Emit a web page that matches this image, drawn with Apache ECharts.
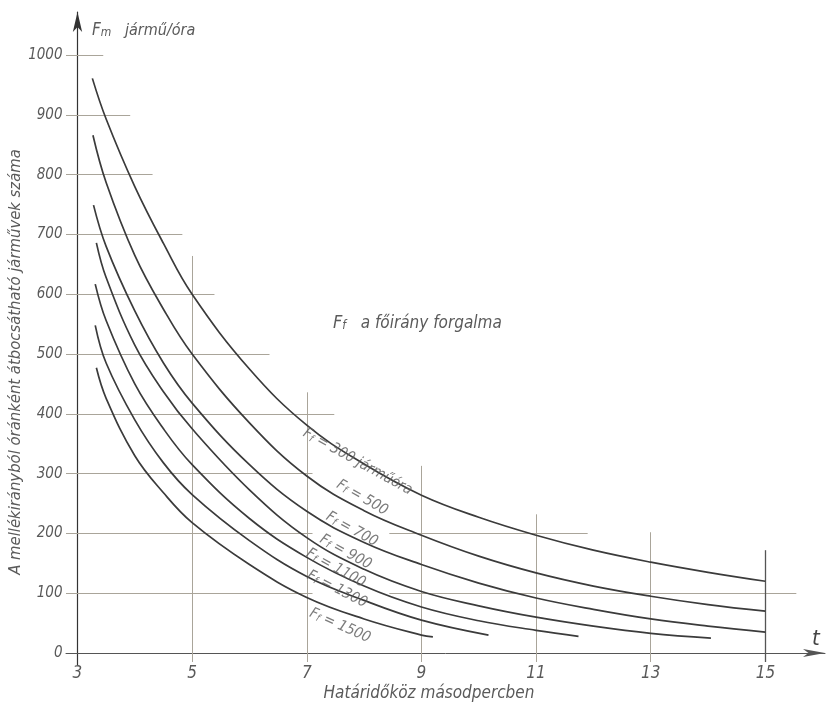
<!DOCTYPE html>
<html>
<head>
<meta charset="utf-8">
<script src="https://cdn.jsdelivr.net/npm/echarts@6/dist/echarts.min.js"></script>
<style>
html,body{margin:0;padding:0;background:#fff;}
#chart{width:833px;height:705px;}
</style>
</head>
<body>
<div id="chart"></div>
<script>
// ---- data ----
const xTicks = [3, 5, 7, 9, 11, 13, 15];
const yTicks = [0, 100, 200, 300, 400, 500, 600, 700, 800, 900, 1000];

const ff300  = [[3.26,961],[3.5,893],[4,780],[4.5,685],[5,600],[6,475],[7,381],[8,316],[9,264],[10,227],[11,197],[12,172],[13,152],[14,135],[15,120]];
const ff500  = [[3.27,866],[3.5,787],[4,665],[4.5,575],[5,500],[6,385],[7,296],[8,238],[9,197],[10,162],[11,134],[12,112],[13,95],[14,81],[15,70]];
const ff700  = [[3.28,749],[3.5,680],[4,572],[4.5,485],[5,418],[6,315],[7,237],[8,185],[9,148],[10,117],[11,92],[12,73],[13,57],[14,45],[15,35]];
const ff900  = [[3.33,686],[3.5,628],[4,515],[4.5,437],[5,375],[6,273],[7,193],[8,140],[9,103],[10,79],[11,60],[12,45],[13,33],[14.05,25]];
const ff1100 = [[3.31,617],[3.5,556],[4,450],[4.5,375],[5,315],[6,225],[7,160],[8,112],[9,77],[10,54],[11,38],[11.74,28]];
const ff1300 = [[3.31,548],[3.5,485],[4,390],[4.5,318],[5,265],[6,188],[7,128],[8,88],[9,55],[10.17,30]];
const ff1500 = [[3.33,477],[3.5,426],[4,330],[4.5,268],[5,218],[6,148],[7,93],[8,57],[9,30],[9.2,27]];

const curveNames = ['300 járműóra', '500', '700', '900', '1100', '1300', '1500'];
const curveData = [ff300, ff500, ff700, ff900, ff1100, ff1300, ff1500];

// label anchors (data coords) and text angle along each curve
const labelX = [7.9, 7.98, 7.8, 7.69, 7.52, 7.54, 7.59];
const labelY = [322, 262, 209, 171, 144, 109, 48];
const labelAngle = [-29, -30, -29, -29, -29, -27, -24];

// partial drawn grid lines (data coords): horizontal [y, xFrom, xTo], vertical [x, yFrom, yTo]
const hGrid = [[1000,2.8,3.45],[900,2.8,3.92],[800,2.8,4.31],[700,2.8,4.83],[600,2.8,5.39],[500,2.8,6.35],[400,2.8,7.48],[300,2.8,7.1],[200,2.8,7.1],[200,8.44,11.9],[100,2.8,7.1],[100,8.44,15.54]];
const vGrid = [[5,-15,664],[7,-15,436],[9,-15,313],[11,-15,232],[13,-15,202]];
const vGridDark = [[15,-15,172]];

// ---- chart ----
const FONT = "'Liberation Sans Narrow','DejaVu Sans Condensed','DejaVu Sans',sans-serif";
const TXT = '#5a5a5a';
const chart = echarts.init(document.getElementById('chart'), null, {renderer:'canvas'});

const seg = (arr, horiz) => arr.map(a => horiz
  ? [{coord:[a[1], a[0]]}, {coord:[a[2], a[0]]}]
  : [{coord:[a[0], a[1]]}, {coord:[a[0], a[2]]}]);

const series = curveData.map((d, i) => ({
  type: 'line', name: curveNames[i], data: d, smooth: 0.4,
  showSymbol: false, symbol: 'none',
  lineStyle: {color: '#3b3b3b', width: 1.7}, animation: false, silent: true, z: 5
}));

series.push({
  type: 'line', data: [], animation: false, silent: true,
  markLine: {
    silent: true, symbol: ['none','none'], animation: false,
    label: {show: false},
    lineStyle: {color: '#aaa59a', width: 1, type: 'solid'},
    data: seg(hGrid, true).concat(seg(vGrid, false))
  }
});
series.push({
  type: 'line', data: [], animation: false, silent: true,
  markLine: {
    silent: true, symbol: ['none','none'], animation: false,
    label: {show: false},
    lineStyle: {color: '#555', width: 1.3, type: 'solid'},
    data: seg(vGridDark, false)
  }
});

series.push({
  type: 'scatter', symbolSize: 0, silent: true, animation: false, z: 6,
  data: curveNames.map((n, i) => ({
    name: n, value: [labelX[i], labelY[i]],
    label: {rotate: labelAngle[i]}
  })),
  label: {
    show: true, position: 'inside',
    formatter: p => '{F|F}{s|f}{t| = ' + p.name + '}',
    rich: {
      F: {fontSize: 15, fontStyle: 'italic', fontFamily: FONT, color: TXT, verticalAlign: 'bottom', lineHeight: 18},
      s: {fontSize: 10, fontStyle: 'italic', fontFamily: FONT, color: TXT, verticalAlign: 'bottom', lineHeight: 14},
      t: {fontSize: 15, fontStyle: 'italic', fontFamily: FONT, color: TXT, verticalAlign: 'bottom', lineHeight: 18}
    }
  }
});

chart.setOption({
  backgroundColor: '#ffffff',
  animation: false,
  grid: {left: 66, right: 8, top: 12, bottom: 40, containLabel: false},
  xAxis: {
    type: 'value', min: 2.8, max: 16.04,
    axisLine: {show: true, onZero: true, symbol: ['none','arrow'], symbolSize: [6, 22],
      lineStyle: {color: '#555', width: 1}},
    axisTick: {show: false},
    splitLine: {show: false},
    axisLabel: {customValues: xTicks, margin: 0, fontSize: 17, fontStyle: 'italic',
      fontFamily: FONT, color: TXT}
  },
  yAxis: {
    type: 'value', min: -20, max: 1072, offset: -11.5,
    axisLine: {show: true, onZero: false, symbol: ['none','arrow'], symbolSize: [7, 20],
      lineStyle: {color: '#333', width: 1.2}},
    axisTick: {show: false},
    splitLine: {show: false},
    axisLabel: {customValues: yTicks, margin: 15, fontSize: 15, fontStyle: 'italic',
      fontFamily: FONT, color: TXT, formatter: v => String(v)}
  },
  graphic: [
    {type: 'text', left: 92, top: 22, silent: true,
      style: {text: '{F|F}{s|m}{t|   jármű/óra}', fontFamily: FONT,
        rich: {
          F: {fontSize: 17, fontStyle: 'italic', fontFamily: FONT, fill: TXT, verticalAlign: 'bottom', lineHeight: 20},
          s: {fontSize: 12, fontStyle: 'italic', fontFamily: FONT, fill: TXT, verticalAlign: 'bottom', lineHeight: 16},
          t: {fontSize: 16, fontStyle: 'italic', fontFamily: FONT, fill: TXT, verticalAlign: 'bottom', lineHeight: 20}
        }}},
    {type: 'text', left: 333, top: 314, silent: true,
      style: {text: '{F|F}{s|f}{t|   a főirány forgalma}', fontFamily: FONT,
        rich: {
          F: {fontSize: 18, fontStyle: 'italic', fontFamily: FONT, fill: TXT, verticalAlign: 'bottom', lineHeight: 20},
          s: {fontSize: 12, fontStyle: 'italic', fontFamily: FONT, fill: TXT, verticalAlign: 'bottom', lineHeight: 16},
          t: {fontSize: 17, fontStyle: 'italic', fontFamily: FONT, fill: TXT, verticalAlign: 'bottom', lineHeight: 20}
        }}},
    {type: 'text', left: 812, top: 628, silent: true,
      style: {text: 't', fontSize: 22, fontStyle: 'italic', fontFamily: FONT, fill: '#444'}},
    {type: 'text', x: 429, y: 694, silent: true,
      style: {text: 'Határidőköz másodpercben', fontSize: 17, fontStyle: 'italic', fontFamily: FONT,
        fill: TXT, align: 'center', verticalAlign: 'middle'}},
    {type: 'text', x: 16, y: 362, rotation: Math.PI / 2, silent: true,
      style: {text: 'A mellékirányból óránként átbocsátható járművek száma', fontSize: 16.5,
        fontStyle: 'italic', fontFamily: FONT, fill: TXT, align: 'center', verticalAlign: 'middle'}}
  ],
  series: series
});
</script>
</body>
</html>
